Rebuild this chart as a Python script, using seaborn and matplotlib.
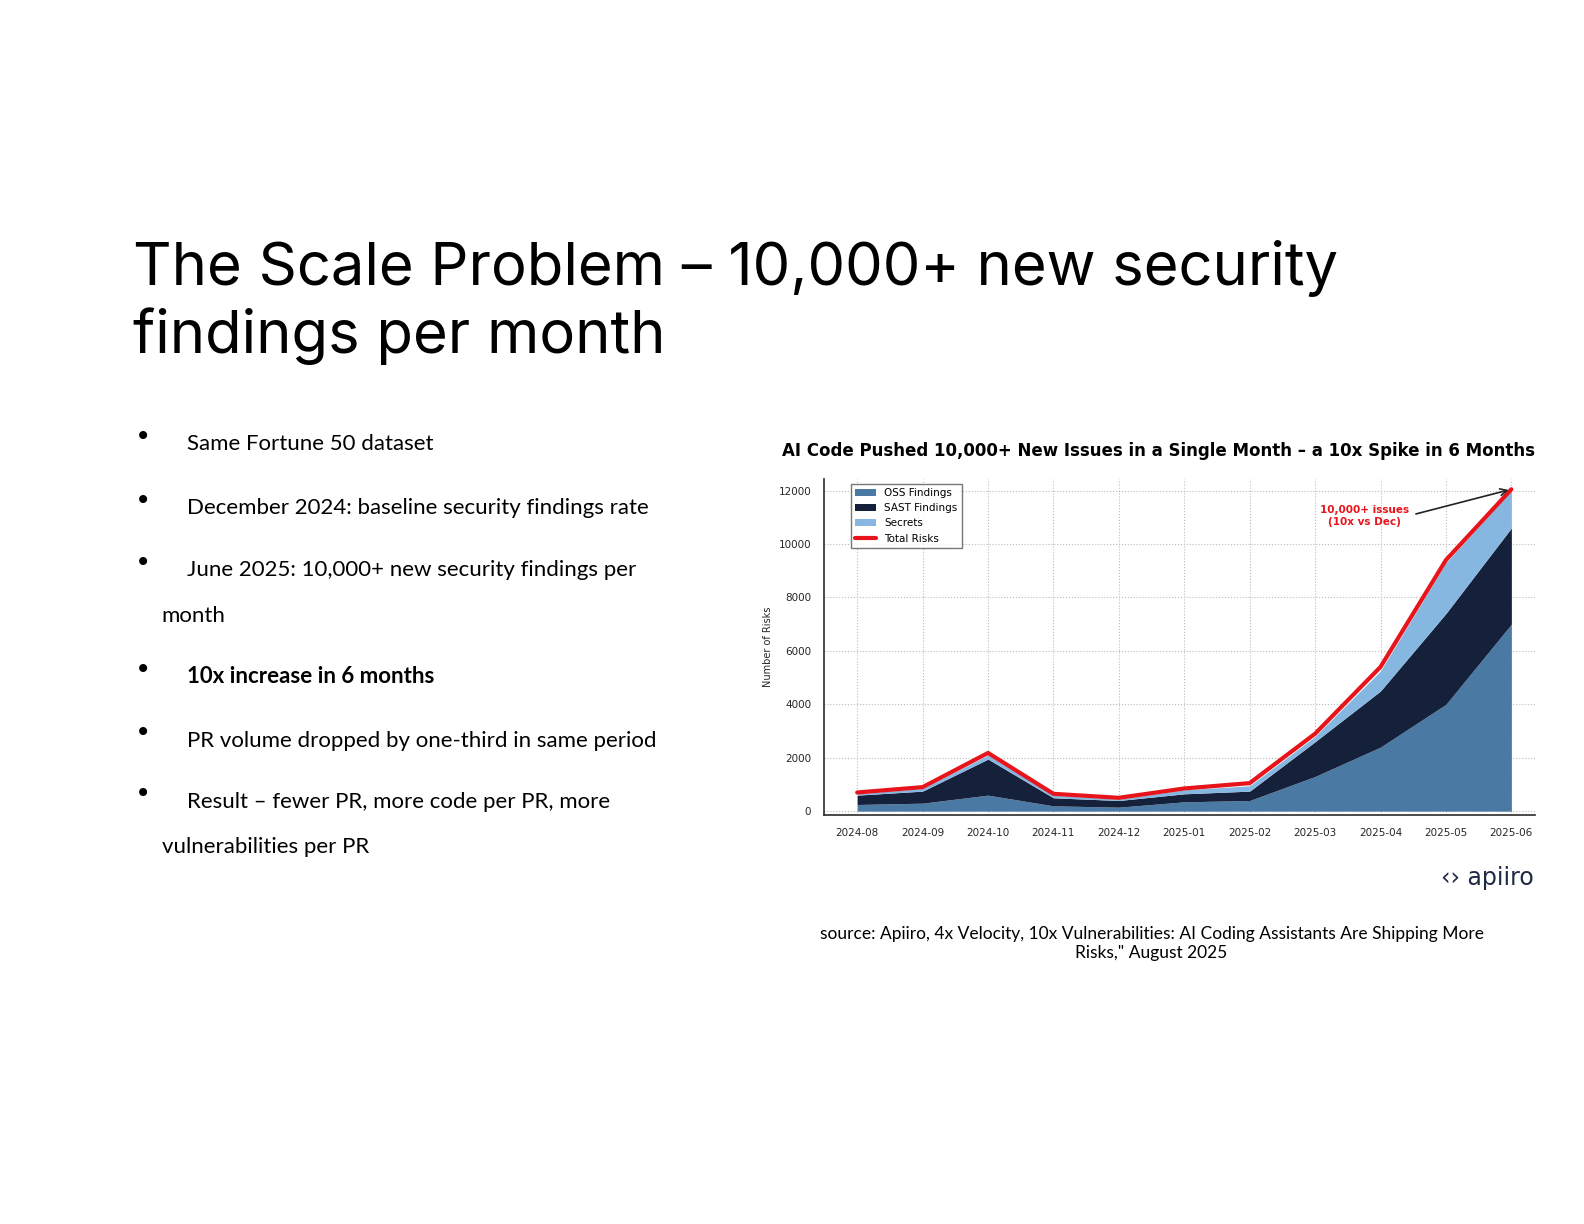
import numpy as np
import seaborn as sns
import matplotlib.pyplot as plt

months = ["2024-08", "2024-09", "2024-10", "2024-11", "2024-12", "2025-01",
          "2025-02", "2025-03", "2025-04", "2025-05", "2025-06"]
oss = [250, 300, 600, 200, 150, 350, 400, 1300, 2400, 4000, 7000]
sast = [350, 450, 1350, 300, 250, 300, 350, 1300, 2100, 3400, 3600]
secrets = [50, 100, 150, 100, 50, 150, 200, 200, 750, 1900, 1400]
total = [700, 900, 2180, 650, 500, 850, 1050, 2900, 5400, 9400, 12050]

bullets = [
    ("Same Fortune 50 dataset", False),
    ("December 2024: baseline security findings rate", False),
    ("June 2025: 10,000+ new security findings per\nmonth", False),
    ("10x increase in 6 months", True),
    ("PR volume dropped by one-third in same period", False),
    ("Result \u2013 fewer PR, more code per PR, more\nvulnerabilities per PR", False),
]

sns.set_theme(style="whitegrid")
plt.rcParams['font.family'] = ['DejaVu Sans']
plt.rcParams['text.color'] = 'black'

fig = plt.figure(figsize=(15.84, 12.24), dpi=100)
fig.patch.set_facecolor("white")

fig.text(0.084, 0.753, "The Scale Problem \u2013 10,000+ new security\nfindings per month",
         fontsize=43, va="center", ha="left", family=["Inter", "DejaVu Sans"],
         linespacing=1.22, color="black")

ys = [0.637, 0.585, 0.534, 0.447, 0.395, 0.345]
for (txt, bold), y in zip(bullets, ys):
    fig.text(0.085, y + 0.006, "\u2022", fontsize=20, va="center", color="black")
    lines = txt.split("\n")
    fig.text(0.118, y, lines[0], fontsize=16, va="center", color="black",
             fontweight="bold" if bold else "normal", family=["Lato", "DejaVu Sans"])
    if len(lines) > 1:
        fig.text(0.102, y - 0.037, lines[1], fontsize=16, va="center", color="black",
                 family=["Lato", "DejaVu Sans"])

ax = fig.add_axes([0.5205, 0.334, 0.4485, 0.275])
x = np.arange(len(months))
colors = ["#4a7aa3", "#15203a", "#86b7e0"]
ax.stackplot(x, oss, sast, secrets, colors=colors, linewidth=0,
             labels=["OSS Findings", "SAST Findings", "Secrets"])
sns.lineplot(x=x, y=total, ax=ax, color="#e8141b", linewidth=3, label="Total Risks")
ax.set_xlim(-0.5, 10.36)
ax.set_ylim(-150, 12450)
ax.set_xticks(x)
ax.set_xticklabels(months, fontsize=7.5)
ax.set_yticks(range(0, 12001, 2000))
ax.tick_params(axis="y", labelsize=7.5)
ax.set_ylabel("Number of Risks", fontsize=7)
ax.grid(True, linestyle=":", color="#bbbbbb", linewidth=0.8)
ax.set_facecolor("white")
for s in ["top", "right"]:
    ax.spines[s].set_visible(False)
for s in ["left", "bottom"]:
    ax.spines[s].set_color("#333333")
ax.legend(loc="upper left", fontsize=7.5, frameon=True, fancybox=False,
          edgecolor="#555555", handlelength=2, bbox_to_anchor=(0.03, 1.0))
ax.set_title("AI Code Pushed 10,000+ New Issues in a Single Month \u2013 a 10x Spike in 6 Months",
             fontsize=12, fontweight="bold", pad=16, loc="center", x=0.47)
ax.annotate("", xy=(10, 12050), xytext=(8.5, 11100),
            arrowprops=dict(arrowstyle="->", color="#222222", lw=1.2))
ax.text(7.75, 11050, "10,000+ issues\n(10x vs Dec)", fontsize=7.5, color="#e8141b",
        fontweight="bold", ha="center", va="center")

fig.text(0.968, 0.277, "\u2039\u203a apiiro", fontsize=17, color="#1f2a44", ha="right")
fig.text(0.727, 0.229, "source: Apiiro, 4x Velocity, 10x Vulnerabilities: AI Coding Assistants Are Shipping More\nRisks,\" August 2025",
         fontsize=12.5, ha="center", va="center", family=["Lato", "DejaVu Sans"])

fig.savefig("out.png", dpi=100, facecolor="white")
